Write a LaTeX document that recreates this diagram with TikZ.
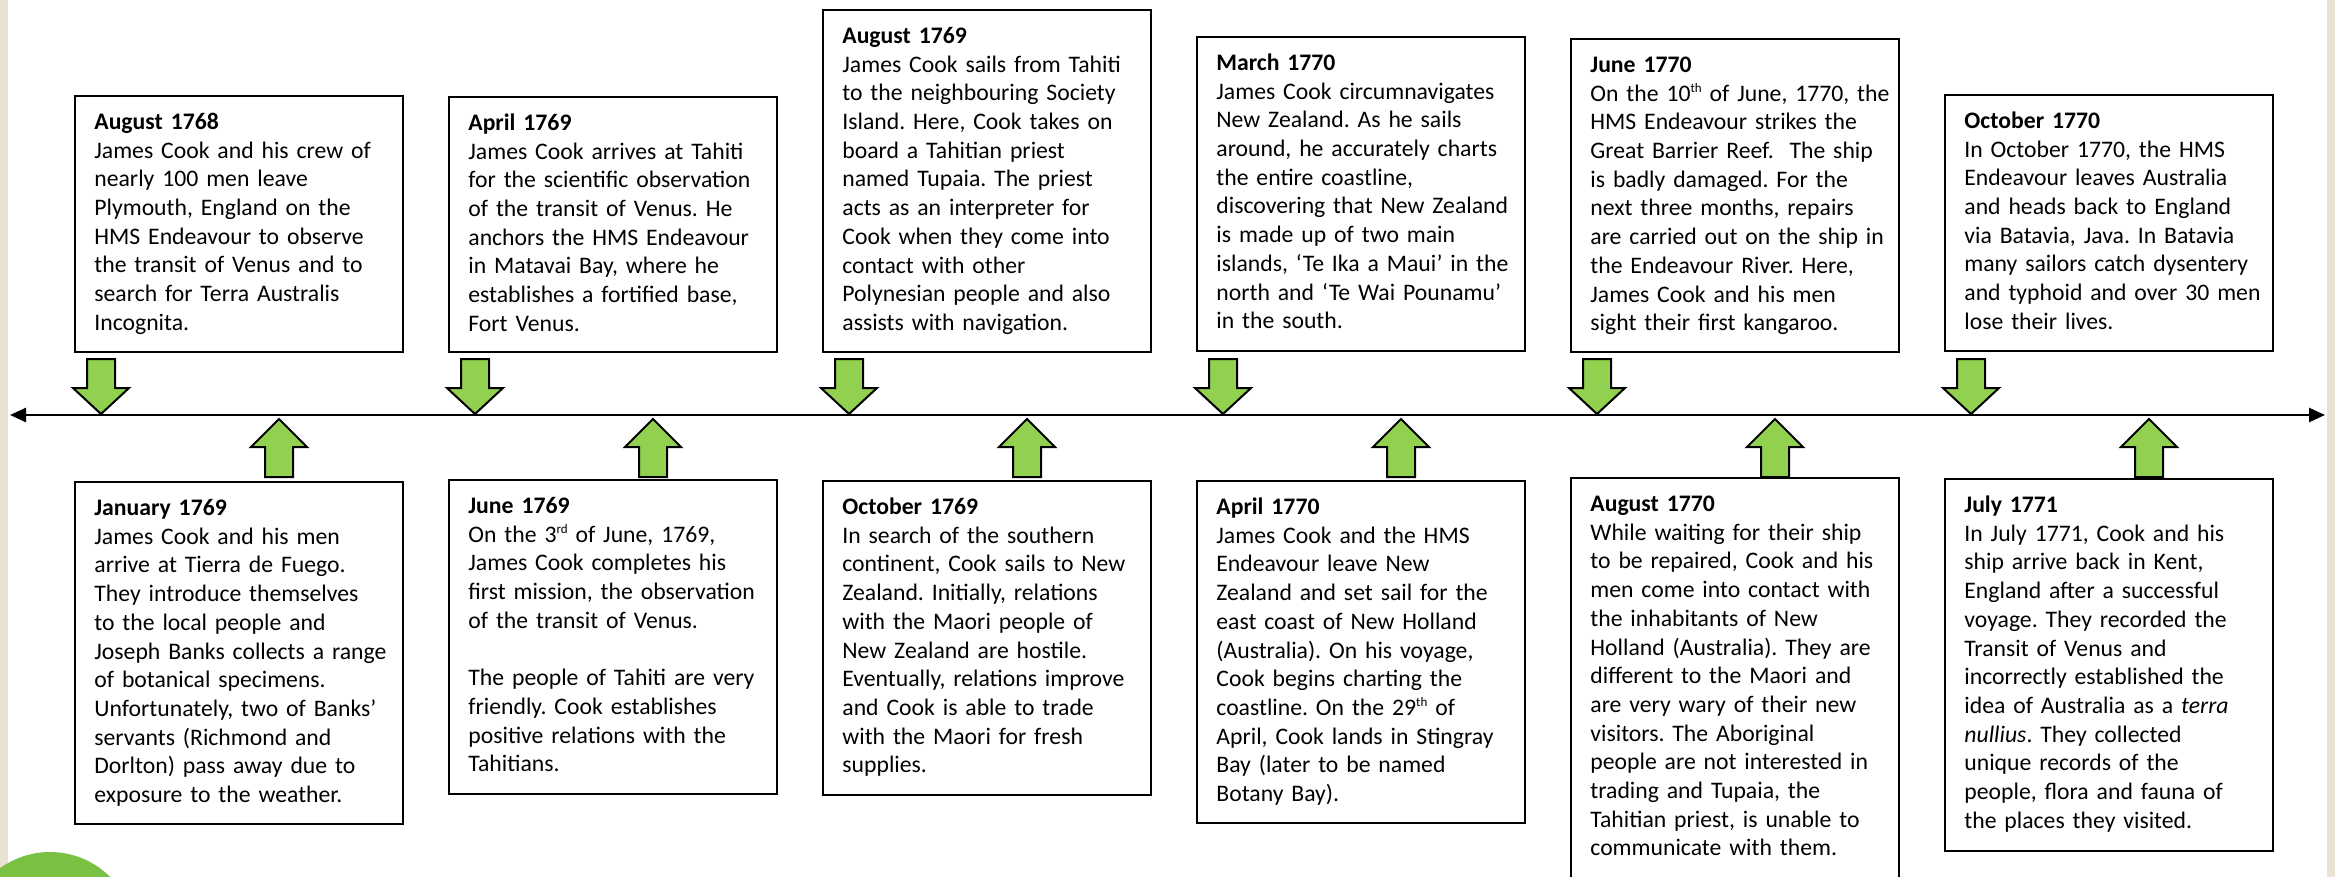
\documentclass[tikz,border=0pt]{standalone}
\usepackage{fontspec}
\setmainfont{Carlito}
\usetikzlibrary{arrows.meta,calc}
\definecolor{arrgreen}{HTML}{92D050}
\definecolor{blobgreen}{HTML}{7AC143}
\definecolor{beige}{HTML}{E9E1D1}
\frenchspacing
\newcommand\evt[5]{%
  \node[evbox, minimum height={(#4-#3)*0.5pt}] (#1) at (#2,#3) {};
  \node[evtext] (#1t) at ($(#1.north west)+(20,34.5)$) {#5};
}
\newcommand\sups[1]{\raisebox{0.75ex}{\fontsize{6.5}{6.5}\selectfont #1}}
\tikzset{
  evbox/.style={draw=black, line width=1pt, fill=white, inner sep=0pt, anchor=north west, minimum width=164pt},
  evtext/.style={anchor=base west, inner sep=0pt, align=left, text width=200pt, font=\fontsize{11.85}{14.35}\selectfont},
  blockarrow/.style={fill=arrgreen, draw=black, line width=1pt, line join=miter},
  timeline/.style={line width=1.3pt, {Triangle[length=8pt,width=7pt]}-{Triangle[length=8pt,width=7pt]}},
  dnarrow/.pic={\path[blockarrow] (-14,359) -- (14,359) -- (14,388) -- (28,388) -- (0,414) -- (-28,388) -- (-14,388) -- cycle;},
  uparrow/.pic={\path[blockarrow] (-14,477) -- (14,477) -- (14,447) -- (28,447) -- (0,419) -- (-28,447) -- (-14,447) -- cycle;},
}
\begin{document}
\frenchspacing
\begin{tikzpicture}[x=0.5pt,y=-0.5pt]
\useasboundingbox (0,0) rectangle (2335,877);
\clip (0,0) rectangle (2335,877);
\fill[white] (0,0) rectangle (2335,877);
\fill[beige] (0,0) rectangle (8,877);
\fill[beige] (2327,0) rectangle (2335,877);
\fill[blobgreen] (50,937) circle[radius=85];

% timeline
\coordinate (tl) at (10,415);
\coordinate (tr) at (2325,415);
\draw[timeline] (tl) -- (tr);

% top row
\evt{e1}{74}{95}{351}{\textbf{August 1768}\\James Cook and his crew of\\nearly 100 men leave\\Plymouth, England on the\\HMS Endeavour to observe\\the transit of Venus and to\\search for Terra Australis\\Incognita.}
\evt{e3}{448}{96}{351}{\textbf{April 1769}\\James Cook arrives at Tahiti\\for the scientific observation\\of the transit of Venus. He\\anchors the HMS Endeavour\\in Matavai Bay, where he\\establishes a fortified base,\\Fort Venus.}
\evt{e5}{822}{9}{351}{\textbf{August 1769}\\James Cook sails from Tahiti\\to the neighbouring Society\\Island. Here, Cook takes on\\board a Tahitian priest\\named Tupaia. The priest\\acts as an interpreter for\\Cook when they come into\\contact with other\\Polynesian people and also\\assists with navigation.}
\evt{e7}{1196}{36}{350}{\textbf{March 1770}\\James Cook circumnavigates\\New Zealand. As he sails\\around, he accurately charts\\the entire coastline,\\discovering that New Zealand\\is made up of two main\\islands, ‘Te Ika a Maui’ in the\\north and ‘Te Wai Pounamu’\\in the south.}
\evt{e9}{1570}{38}{351}{\textbf{June 1770}\\On the 10\sups{th} of June, 1770, the\\HMS Endeavour strikes the\\Great Barrier Reef.\ \ The ship\\is badly damaged. For the\\next three months, repairs\\are carried out on the ship in\\the Endeavour River. Here,\\James Cook and his men\\sight their first kangaroo.}
\evt{e11}{1944}{94}{350}{\textbf{October 1770}\\In October 1770, the HMS\\Endeavour leaves Australia\\and heads back to England\\via Batavia, Java. In Batavia\\many sailors catch dysentery\\and typhoid and over 30 men\\lose their lives.}

% bottom row
\evt{e2}{74}{481}{823}{\textbf{January 1769}\\James Cook and his men\\arrive at Tierra de Fuego.\\They introduce themselves\\to the local people and\\Joseph Banks collects a range\\of botanical specimens.\\Unfortunately, two of Banks’\\servants (Richmond and\\Dorlton) pass away due to\\exposure to the weather.}
\evt{e4}{448}{479}{793}{\textbf{June 1769}\\On the 3\sups{rd} of June, 1769,\\James Cook completes his\\first mission, the observation\\of the transit of Venus.\\[14.35pt]The people of Tahiti are very\\friendly. Cook establishes\\positive relations with the\\Tahitians.}
\evt{e6}{822}{480}{794}{\textbf{October 1769}\\In search of the southern\\continent, Cook sails to New\\Zealand. Initially, relations\\with the Maori people of\\New Zealand are hostile.\\Eventually, relations improve\\and Cook is able to trade\\with the Maori for fresh\\supplies.}
\evt{e8}{1196}{480}{822}{\textbf{April 1770}\\James Cook and the HMS\\Endeavour leave New\\Zealand and set sail for the\\east coast of New Holland\\(Australia). On his voyage,\\Cook begins charting the\\coastline. On the 29\sups{th} of\\April, Cook lands in Stingray\\Bay (later to be named\\Botany Bay).}
\evt{e10}{1570}{477}{920}{\textbf{August 1770}\\While waiting for their ship\\to be repaired, Cook and his\\men come into contact with\\the inhabitants of New\\Holland (Australia). They are\\different to the Maori and\\are very wary of their new\\visitors. The Aboriginal\\people are not interested in\\trading and Tupaia, the\\Tahitian priest, is unable to\\communicate with them.}
\evt{e12}{1944}{478}{850}{\textbf{July 1771}\\In July 1771, Cook and his\\ship arrive back in Kent,\\England after a successful\\voyage. They recorded the\\Transit of Venus and\\incorrectly established the\\idea of Australia as a \textit{terra}\\\textit{nullius}. They collected\\unique records of the\\people, flora and fauna of\\the places they visited.}

% arrows
\foreach \cx in {101,475,849,1223,1597,1971} {\pic at (\cx,0) {dnarrow};}
\foreach \cx in {279,653,1027,1401,1775,2149} {\pic at (\cx,0) {uparrow};}
\end{tikzpicture}
\end{document}
